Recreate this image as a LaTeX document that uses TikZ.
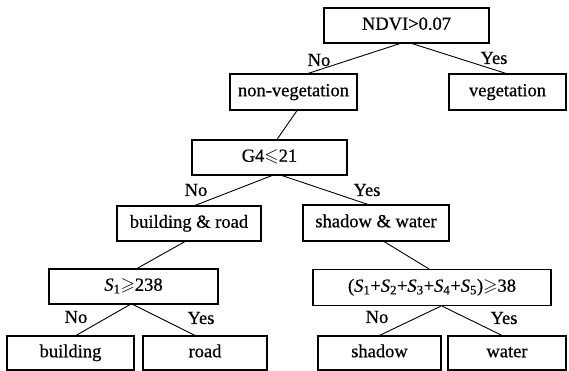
\documentclass[tikz,border=0pt]{standalone}
\usepackage{amssymb}
\usepackage{fontspec}
\setmainfont{Liberation Serif}[FakeBold=0.6]
\begin{document}
\begin{tikzpicture}[x=1pt,y=-1pt,
  box/.style={draw,line width=1.1pt,inner sep=0pt,minimum height=35pt,
    font=\fontsize{18.5}{20}\selectfont,text height=12.5pt,text depth=4pt},
  lab/.style={inner sep=0pt,font=\fontsize{18.5}{20}\selectfont},
  link/.style={line width=0.9pt}]
\useasboundingbox (0,0) rectangle (569,371);
% boxes
\node[box,minimum width=165pt] (ndvi) at (406.5,25.5) {NDVI>0.07};
\node[box,minimum width=127pt,minimum height=36pt] (nonveg) at (293.5,92) {non-vegetation};
\node[box,minimum width=117pt,minimum height=36pt] (veg) at (507.5,92) {vegetation};
\node[box,minimum width=155pt] (g4) at (269.5,157.5) {G4$\leqslant$21};
\node[box,minimum width=144pt] (br) at (189,223.5) {building \& road};
\node[box,minimum width=146pt,minimum height=36pt] (sw) at (376,223) {shadow \& water};
\node[box,minimum width=169pt] (s1) at (133.5,286.5) {\textit{S}\textsubscript{1}$\geqslant$238};
\node[box,minimum width=238pt,minimum height=36pt] (form) at (432,287.5)
  {(\textit{S}\textsubscript{1}+\textit{S}\textsubscript{2}+\textit{S}\textsubscript{3}+\textit{S}\textsubscript{4}+\textit{S}\textsubscript{5})$\geqslant$38};
\node[box,minimum width=127pt,minimum height=34pt] (building) at (70.5,353) {building};
\node[box,minimum width=124pt,minimum height=34pt] (road) at (205,353) {road};
\node[box,minimum width=123pt,minimum height=34pt] (shadow) at (379.5,353) {shadow};
\node[box,minimum width=118pt,minimum height=34pt] (water) at (507,353) {water};
% connectors
\draw[link] ([xshift=-6.5pt]ndvi.south) -- ([xshift=14.5pt]nonveg.north);
\draw[link] ([xshift=5.5pt]ndvi.south) -- ([xshift=-1.5pt]veg.north);
\draw[link] ([xshift=3.5pt]nonveg.south) -- ([xshift=7.5pt]g4.north);
\draw[link] ([xshift=2.5pt]g4.south) -- ([xshift=6pt]br.north);
\draw[link] ([xshift=12.5pt]g4.south) -- ([xshift=-8pt]sw.north);
\draw[link] ([xshift=-4pt]br.south) -- ([xshift=3.5pt]s1.north);
\draw[link] ([xshift=8pt]sw.south) -- ([xshift=-3pt]form.north);
\draw[link] ([xshift=-3.5pt]s1.south) -- ([xshift=5.5pt]building.north);
\draw[link] ([xshift=-0.5pt]s1.south) -- ([xshift=-10pt]road.north);
\draw[link] ([xshift=9pt]form.south) -- (shadow.north);
\draw[link] ([xshift=10pt]form.south) -- ([xshift=-5pt]water.north);
% labels
\node[lab] (l1) at (319,60) {No};
\node[lab] (l2) at (494,58) {Yes};
\node[lab] (l3) at (196,190) {No};
\node[lab] (l4) at (367,190) {Yes};
\node[lab] (l5) at (76,317) {No};
\node[lab] (l6) at (201,318) {Yes};
\node[lab] (l7) at (377,317) {No};
\node[lab] (l8) at (504,318) {Yes};
\end{tikzpicture}
\end{document}
